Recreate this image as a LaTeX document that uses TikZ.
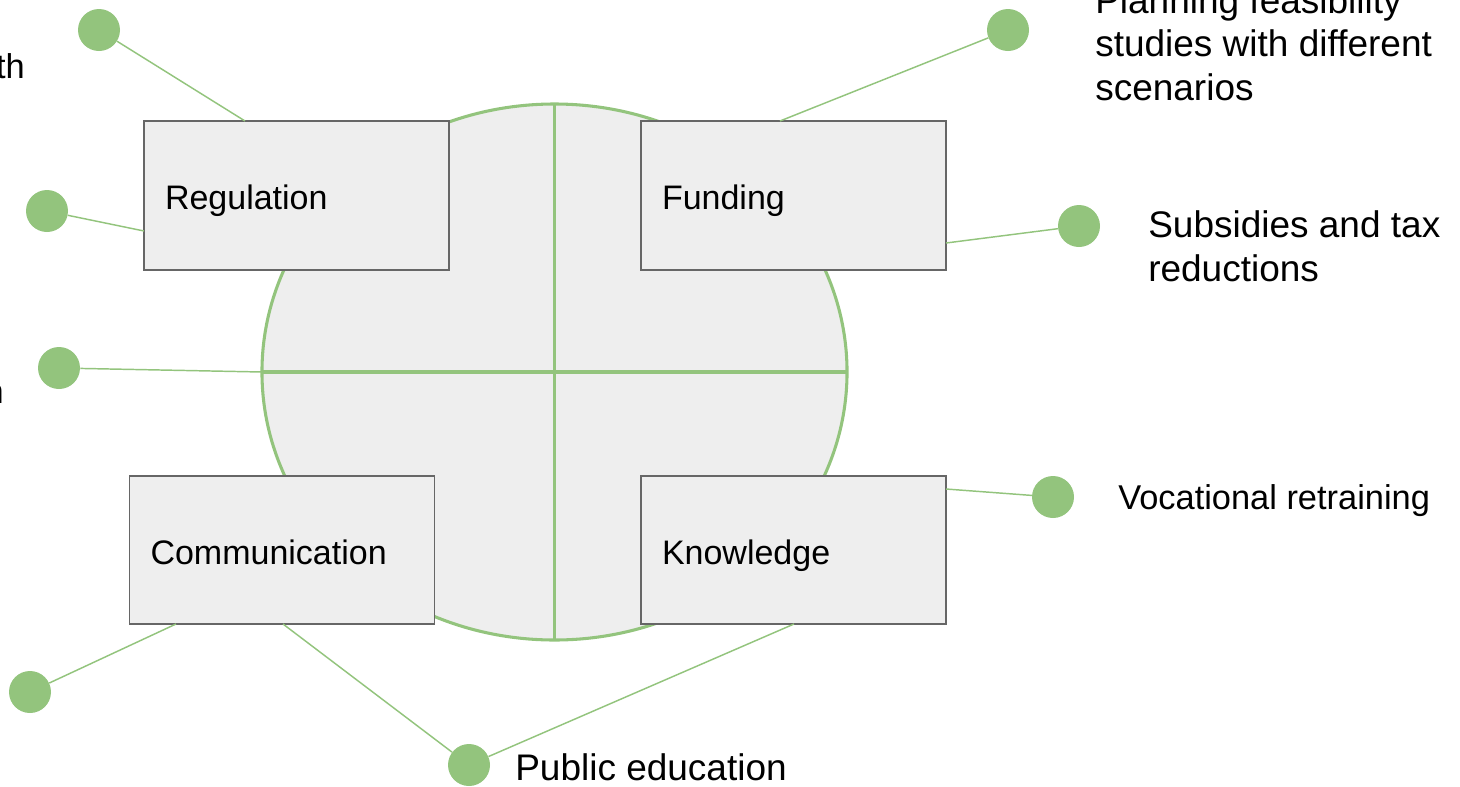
\documentclass[tikz,border=0pt]{standalone}
\usepackage{fontspec}
\setmainfont{Liberation Sans}
\definecolor{lgreen}{HTML}{93C47D}
\definecolor{boxfill}{HTML}{EEEEEE}
\definecolor{boxline}{HTML}{666666}
\begin{document}
\begin{tikzpicture}[x=0.75pt,y=-0.75pt,
  box/.style={draw=boxline, line width=1.4pt, fill=boxfill, text width=197.25pt,
    inner xsep=15.75pt, inner ysep=0pt, minimum height=111.4pt, align=left,
    text height=21pt, text depth=0pt, font=\fontsize{25.5}{30}\selectfont},
  dot/.style={circle, fill=lgreen, minimum size=31.5pt, inner sep=0pt},
  conn/.style={draw=lgreen, line width=1.1pt},
  ring/.style={draw=lgreen, line width=2.3pt},
  bigtxt/.style={anchor=base west, inner sep=0pt, align=left, font=\fontsize{27.75}{32.4}\selectfont},
  midtxt/.style={anchor=base west, inner sep=0pt, align=left, font=\fontsize{25.8}{30}\selectfont}]
\useasboundingbox (0,0) rectangle (1460,786);
\clip (0,0) rectangle (1460,786);
% central disc with cross
\coordinate (c) at (554.5,372);
\coordinate (cT) at (554.5,104);
\coordinate (cB) at (554.5,640);
\coordinate (cL) at (262,372);
\coordinate (cR) at (847,372);
\draw[ring, fill=boxfill] (c) ellipse [x radius=219.4pt, y radius=201pt];
\draw[ring] (cT) -- (cB);
\draw[ring] (cL) -- (cR);
% boxes
\node[box] (reg) at (296.5,195.5) {Regulation};
\node[box] (fund) at (793.5,195.5) {Funding};
\node[box] (comm) at (282,550) {Communication};
\node[box] (know) at (793.5,550) {Knowledge};
% connector end points on boxes
\coordinate (regT) at (245,121);
\coordinate (regL) at (144,231);
\coordinate (commB1) at (176,624);
\coordinate (commB2) at (283,624);
\coordinate (knowB) at (794,624);
\coordinate (fundT) at (780,121);
\coordinate (fundR) at (946,243);
\coordinate (knowR) at (946,489);
% dots
\node[dot] (d1) at (99,30) {};
\node[dot] (d2) at (47,211) {};
\node[dot] (d3) at (59,368) {};
\node[dot] (d4) at (30,692) {};
\node[dot] (d5) at (469,765) {};
\node[dot] (d6) at (1008,30) {};
\node[dot] (d7) at (1079,226) {};
\node[dot] (d8) at (1053,497) {};
% connectors
\draw[conn] (d1) -- (regT);
\draw[conn] (d2) -- (regL);
\draw[conn] (d3) -- (cL);
\draw[conn] (d4) -- (commB1);
\draw[conn] (d5) -- (commB2);
\draw[conn] (d5) -- (knowB);
\draw[conn] (d6) -- (fundT);
\draw[conn] (d7) -- (fundR);
\draw[conn] (d8) -- (knowR);
% labels (base anchor = baseline of the last line)
\node[bigtxt] (plan) at (1095,100) {Planning feasibility\\studies with different\\scenarios};
\node[bigtxt] (subs) at (1148,281) {Subsidies and tax\\reductions};
\node[midtxt] (voc) at (1118,509) {Vocational retraining};
\node[bigtxt] (pub) at (515,780) {Public education};
\node[midtxt, anchor=base east] (th) at (25,78) {th};
\node[midtxt, anchor=base east] (nn) at (4,403) {n};
\end{tikzpicture}
\end{document}
